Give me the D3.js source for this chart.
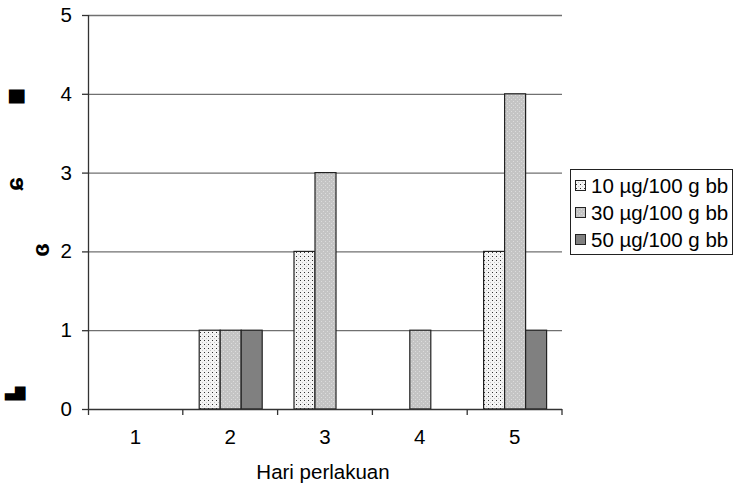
<!DOCTYPE html>
<html><head><meta charset="utf-8">
<script src="https://cdn.jsdelivr.net/npm/d3@7"></script>
<style>body{margin:0;background:#fff}svg{display:block;font-family:"Liberation Sans",Arial,sans-serif}</style>
</head><body><svg id="c" width="734" height="492"></svg>
<script>
const categories = ["1","2","3","4","5"];
const seriesNames = ["10 µg/100 g bb","30 µg/100 g bb","50 µg/100 g bb"];
const s10 = [0,1,2,0,2];
const s30 = [0,1,3,1,4];
const s50 = [0,1,0,0,1];
const yTicks = [0,1,2,3,4,5];
const xTitle = "Hari perlakuan";
const yGlyphs = ["▆", "ɕ", "ɞ", "▙"];

const FS = 20.5;
const svg = d3.select("#c");
const defs = svg.append("defs");
const p1 = defs.append("pattern").attr("id","p10").attr("width",4).attr("height",4).attr("patternUnits","userSpaceOnUse");
p1.append("rect").attr("width",4).attr("height",4).attr("fill","#f4f4f4");
p1.append("rect").attr("x",0).attr("y",0).attr("width",1).attr("height",1).attr("fill","#333");
p1.append("rect").attr("x",2).attr("y",2).attr("width",1).attr("height",1).attr("fill","#c8c8c8");
const p2 = defs.append("pattern").attr("id","p30").attr("width",4).attr("height",4).attr("patternUnits","userSpaceOnUse");
p2.append("rect").attr("width",4).attr("height",4).attr("fill","#c4c4c4");
p2.append("rect").attr("x",1).attr("y",1).attr("width",1).attr("height",1).attr("fill","#dcdcdc");
p2.append("rect").attr("x",3).attr("y",3).attr("width",1).attr("height",1).attr("fill","#dcdcdc");
const fills = ["url(#p10)","url(#p30)","#808080"];

const L=88,R=562,T=15,B=409;
const x = d3.scaleBand().domain(categories).range([L,R]);
const y = d3.scaleLinear().domain([0,5]).range([B,T]);
const bw = 21;

// gridlines
svg.append("g").selectAll("line").data(yTicks.filter(d=>d>0)).join("line")
  .attr("x1",L).attr("x2",R).attr("y1",d=>y(d)+0.5).attr("y2",d=>y(d)+0.5)
  .attr("stroke","#707070").attr("stroke-width",1.3);

// bars
const data = [s10,s30,s50];
data.forEach((arr,si)=>{
  svg.append("g").selectAll("rect").data(arr.map((v,i)=>({c:categories[i],v}))).join("rect")
    .filter(d=>d.v>0)
    .attr("x",d=>x(d.c)+x.bandwidth()/2-1.5*bw+si*bw+0.5)
    .attr("y",d=>y(d.v))
    .attr("width",bw).attr("height",d=>B-y(d.v))
    .attr("fill",fills[si]).attr("stroke","#222").attr("stroke-width",1.2);
});

// y axis
const ya = svg.append("g").attr("transform",`translate(${L},0)`)
  .call(d3.axisLeft(y).tickValues(yTicks).tickFormat(d3.format("d")).tickSize(6).tickPadding(10));
ya.select(".domain").attr("d",`M0.5,${T}V${B+6}`).attr("stroke","#333").attr("stroke-width",1.3);
ya.selectAll(".tick line").attr("stroke","#333").attr("stroke-width",1.3);
ya.selectAll("text").attr("font-size",FS).attr("fill","#000").attr("font-family","Liberation Sans, Arial, sans-serif");

// x axis
const xa = svg.append("g").attr("transform",`translate(0,${B})`)
  .call(d3.axisBottom(x).tickSize(0).tickPadding(20));
xa.select(".domain").attr("d",`M${L},0.5H${R}`).attr("stroke","#333").attr("stroke-width",1.3);
xa.selectAll("text").attr("font-size",FS).attr("fill","#000").attr("font-family","Liberation Sans, Arial, sans-serif");
const bounds = categories.map(c=>x(c)).concat([R]);
svg.append("g").selectAll("line").data(bounds.slice(1)).join("line")
  .attr("x1",d=>d).attr("x2",d=>d).attr("y1",B).attr("y2",B+6)
  .attr("stroke","#333").attr("stroke-width",1.3);

svg.append("text").attr("x",323).attr("y",479).attr("text-anchor","middle")
  .attr("font-size",FS).attr("fill","#000").text(xTitle);

// garbled y-axis title glyphs
const gpos = [[14,96],[15,184],[41,250],[15,393]];
const gsz = [17,24,24,17];
yGlyphs.forEach((g,i)=>{
  svg.append("text").attr("transform",`translate(${gpos[i][0]},${gpos[i][1]}) rotate(-90)`)
    .attr("text-anchor","middle").attr("dy","0.35em").attr("font-size",gsz[i]).attr("font-weight","bold")
    .attr("fill","#000").text(g);
});

// legend
const lg = svg.append("g");
lg.append("rect").attr("x",570.5).attr("y",169.5).attr("width",162).attr("height",85)
  .attr("fill","#fff").attr("stroke","#222").attr("stroke-width",1);
seriesNames.forEach((n,i)=>{
  const cy = 186 + i*27;
  lg.append("rect").attr("x",575.5).attr("y",cy-5.5).attr("width",10).attr("height",10)
    .attr("fill",fills[i]).attr("stroke","#222").attr("stroke-width",1);
  lg.append("text").attr("x",591).attr("y",cy).attr("dy","0.36em").attr("font-size",FS)
    .attr("fill","#000").text(n);
});
</script></body></html>
